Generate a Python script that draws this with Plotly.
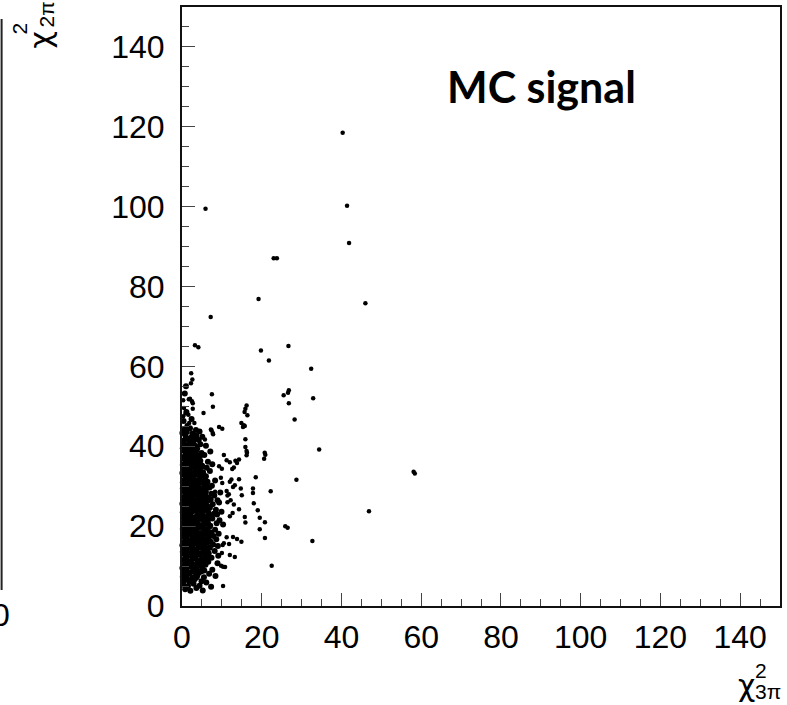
import plotly.graph_objects as go

# ---- data (chi2_3pi, chi2_2pi) ----
sparse_x = [40.3, 41.4, 41.9, 5.9, 23.0, 23.8, 46.0, 19.2, 7.2, 3.25, 4.1, 26.7, 19.8, 21.8, 32.4,
            2.3, 2.6, 2.25, 7.5, 25.5, 26.6, 26.8, 32.9, 26.8, 28.25, 7.75, 1.7, 2.0, 2.5, 2.7, 2.7,
            0.3, 0.5, 0.9, 1.6, 0.3, 5.4, 16.2, 15.9, 15.7, 16.4, 14.9, 15.5, 15.3, 15.75, 9.3, 10.1,
            7.25, 3.1, 1.8, 1.2, 1.3, 7.4, 7.7, 7.8, 5.75, 15.9, 15.9, 16.2, 16.3, 16.2, 20.75, 20.9,
            20.6, 34.4, 28.7, 22.25, 18.5, 14.3, 17.8, 17.8, 14.75, 15.0, 18.0, 19.0, 19.5, 20.8, 19.5,
            20.8, 25.9, 26.5, 32.7, 22.5, 15.75, 15.9, 13.25, 12.0, 13.8, 14.9, 12.8, 10.0, 10.3, 10.8,
            9.8, 10.3, 10.2, 10.5, 11.2, 11.8, 12.0, 12.7, 14.3, 13.0, 11.4, 12.2, 11.75, 11.4, 12.8,
            13.25, 12.0, 12.4, 13.0, 13.8, 13.4, 14.3, 12.6, 10.5, 11.2, 12.0, 9.3, 10.0, 9.75, 10.1,
            11.2, 8.3, 58.1, 58.4, 46.9]
sparse_y = [118.5, 100.2, 90.9, 99.5, 87.1, 87.1, 75.8, 76.9, 72.4, 65.3, 64.8, 65.1, 64.0, 61.5, 59.4,
            58.3, 56.7, 55.8, 53.0, 52.8, 53.4, 54.0, 52.0, 50.75, 46.7, 49.9, 51.8, 51.9, 51.3, 50.8, 49.4,
            51.5, 49.6, 48.2, 47.9, 47.5, 48.3, 50.2, 49.4, 48.6, 47.75, 45.8, 45.25, 44.8, 45.1, 44.8, 44.4,
            44.2, 45.8, 45.8, 45.25, 44.8, 44.0, 43.3, 43.0, 41.7, 41.75, 39.8, 38.8, 38.4, 37.75, 38.4, 37.9,
            36.9, 39.2, 31.6, 28.75, 32.25, 31.75, 29.4, 28.3, 29.4, 27.75, 25.7, 24.0, 22.1, 21.0, 19.25,
            17.0, 20.0, 19.6, 16.25, 10.1, 22.3, 20.9, 12.3, 12.8, 16.75, 16.1, 17.3, 13.3, 9.8, 9.75,
            10.1, 5.0, 15.25, 15.7, 17.2, 15.5, 22.5, 23.3, 24.2, 25.4, 26.0, 26.5, 28.0, 27.7, 29.8,
            30.25, 31.1, 31.7, 34.7, 35.8, 36.4, 36.7, 34.3, 37.8, 36.5, 36.0, 35.0, 34.4, 32.1, 30.8,
            28.8, 28.6, 33.6, 33.2, 23.75]

# dense core of the cluster near the origin (estimated from the solid black region)
core_pts = [
    (0.8, 4.2), (2.1, 3.8), (3.6, 4.5), (5.2, 3.9),
    (0.3, 5.3), (1.5, 5.0), (2.9, 5.6), (4.4, 5.1), (7.3, 4.8),
    (0.6, 6.4), (1.9, 6.1), (3.2, 6.7), (4.9, 6.2), (6.1, 5.9),
    (0.2, 7.3), (1.2, 7.6), (2.6, 7.1), (3.9, 7.8), (5.5, 7.2), (8.4, 7.5),
    (0.5, 8.6), (1.8, 8.2), (3.0, 8.9), (4.3, 8.4), (6.8, 8.1),
    (0.1, 9.5), (1.1, 9.2), (2.4, 9.8), (3.6, 9.3), (5.0, 9.7), (7.6, 9.1),
    (0.7, 10.4), (1.9, 10.8), (3.1, 10.2), (4.5, 10.6), (5.9, 10.3), (8.9, 10.7),
    (0.3, 11.5), (1.4, 11.2), (2.7, 11.8), (3.9, 11.3), (5.2, 11.6), (6.6, 11.1),
    (0.9, 12.3), (2.0, 12.7), (3.3, 12.2), (4.6, 12.8), (6.0, 12.4), (7.4, 12.1), (9.1, 12.6),
    (0.2, 13.6), (1.5, 13.3), (2.6, 13.9), (3.8, 13.4), (5.3, 13.7), (6.7, 13.2), (8.2, 13.8),
    (0.6, 14.4), (1.8, 14.8), (3.0, 14.3), (4.2, 14.7), (5.6, 14.2), (7.0, 14.6),
    (0.1, 15.2), (1.2, 15.6), (2.5, 15.1), (3.6, 15.7), (4.9, 15.3), (6.3, 15.8), (7.8, 15.4), (9.0, 15.0),
    (0.8, 16.5), (2.0, 16.2), (3.2, 16.8), (4.4, 16.3), (5.8, 16.6), (7.2, 16.1), (8.6, 16.7),
    (0.3, 17.4), (1.5, 17.8), (2.7, 17.3), (3.9, 17.6), (5.1, 17.2), (6.5, 17.7), (7.9, 17.5),
    (0.9, 18.6), (2.1, 18.2), (3.4, 18.7), (4.6, 18.3), (6.0, 18.8), (7.3, 18.4), (9.2, 18.1),
    (0.2, 19.3), (1.4, 19.7), (2.8, 19.2), (4.0, 19.6), (5.4, 19.4), (6.8, 19.8), (8.3, 19.1),
    (0.7, 20.5), (1.9, 20.2), (3.1, 20.8), (4.4, 20.3), (5.7, 20.6), (7.1, 20.1), (8.7, 20.7), (10.3, 20.4),
    (0.4, 21.6), (1.3, 21.3), (2.5, 21.8), (3.7, 21.2), (5.0, 21.7), (6.3, 21.4), (7.6, 21.9), (9.4, 21.5),
    (0.9, 22.4), (2.1, 22.8), (3.3, 22.3), (4.6, 22.7), (5.9, 22.2), (7.3, 22.6), (8.8, 22.9),
    (0.2, 23.5), (1.5, 23.2), (2.7, 23.7), (4.0, 23.3), (5.3, 23.8), (6.6, 23.4), (8.0, 23.1), (9.9, 23.6),
    (0.6, 24.3), (1.8, 24.7), (3.0, 24.2), (4.3, 24.8), (5.6, 24.4), (7.0, 24.6), (8.5, 24.1),
    (0.1, 25.6), (1.2, 25.2), (2.4, 25.8), (3.7, 25.3), (5.0, 25.7), (6.3, 25.1), (7.7, 25.5), (9.3, 25.9),
    (0.8, 26.4), (2.0, 26.8), (3.2, 26.3), (4.5, 26.6), (5.8, 26.2), (7.2, 26.7), (8.9, 26.5),
    (0.3, 27.2), (1.5, 27.6), (2.7, 27.3), (4.0, 27.8), (5.2, 27.4), (6.6, 27.1), (8.1, 27.7),
    (0.9, 28.5), (2.1, 28.2), (3.4, 28.7), (4.6, 28.3), (6.0, 28.6), (7.4, 28.1), (9.6, 28.4),
    (0.2, 29.4), (1.4, 29.8), (2.8, 29.3), (4.1, 29.6), (5.4, 29.2), (6.9, 29.7),
    (0.7, 30.3), (1.9, 30.6), (3.1, 30.2), (4.4, 30.8), (5.7, 30.4), (7.5, 30.1),
    (0.4, 31.5), (1.6, 31.2), (2.6, 31.8), (3.8, 31.3), (5.1, 31.6), (6.4, 31.1), (8.3, 31.4),
    (0.9, 32.6), (2.2, 32.3), (3.3, 32.8), (4.7, 32.2), (6.0, 32.5),
    (0.1, 33.3), (1.3, 33.7), (2.7, 33.2), (3.9, 33.6), (5.3, 33.4), (7.0, 33.8),
    (0.6, 34.5), (1.8, 34.2), (3.1, 34.7), (4.4, 34.3), (6.2, 34.6),
    (0.2, 35.4), (1.4, 35.8), (2.5, 35.3), (3.8, 35.6), (5.0, 35.2), (7.6, 35.5),
    (0.8, 36.6), (2.0, 36.2), (3.3, 36.7), (4.6, 36.4), (6.5, 36.1),
    (0.3, 37.3), (1.6, 37.7), (2.8, 37.2), (4.1, 37.5), (5.6, 37.8),
    (0.9, 38.4), (2.2, 38.1), (3.5, 38.6), (4.9, 38.3), (7.1, 38.7),
    (0.2, 39.5), (1.3, 39.2), (2.6, 39.8), (3.8, 39.4),
    (0.7, 40.3), (1.9, 40.7), (3.2, 40.2), (4.6, 40.5), (6.0, 40.1),
    (0.4, 41.4), (1.5, 41.8), (2.9, 41.3), (4.2, 41.6),
    (0.9, 42.5), (2.3, 42.2), (3.6, 42.7), (5.1, 42.4),
    (0.1, 43.3), (1.2, 43.6), (2.6, 43.2), (4.4, 43.7),
    (0.6, 44.2), (2.0, 44.5), (3.5, 44.1),
    (0.4, 46.3), (2.4, 46.8), (1.1, 48.6), (0.7, 53.2), (1.0, 55.0),
]
# extra events filling the gaps of the saturated black core (x < ~6, y ~ 6..40)
fill_pts = [
    (1.2, 6.9), (2.4, 6.6), (3.7, 7.2), (4.9, 8.7),
    (0.9, 8.0), (2.3, 8.5), (3.5, 8.1), (5.6, 8.9),
    (0.4, 10.0), (1.4, 9.9), (2.7, 10.4), (4.0, 10.1), (5.3, 10.9),
    (1.0, 11.9), (2.2, 11.3), (3.4, 11.9), (4.7, 11.5), (6.2, 11.9),
    (0.5, 13.0), (1.7, 12.8), (2.9, 13.1), (4.3, 13.2), (5.8, 13.0),
    (1.2, 14.1), (2.4, 14.5), (3.6, 14.2), (5.0, 14.6), (6.4, 14.4),
    (0.5, 15.9), (1.8, 15.5), (3.0, 15.9), (4.2, 15.6), (5.5, 15.4),
    (1.2, 16.9), (2.5, 16.6), (3.7, 16.9), (5.1, 16.5), (6.7, 17.1),
    (0.5, 18.0), (1.7, 18.3), (2.9, 17.9), (4.2, 18.1), (5.5, 18.0),
    (1.1, 19.1), (2.4, 19.4), (3.5, 19.0), (4.8, 19.8), (6.2, 19.2),
    (0.3, 20.9), (1.5, 20.7), (2.6, 20.3), (3.8, 20.7), (5.1, 20.2), (6.5, 20.9),
    (0.9, 21.9), (2.0, 21.5), (3.2, 21.5), (4.4, 21.9), (5.6, 21.1),
    (0.4, 22.7), (1.6, 22.5), (2.7, 22.1), (4.0, 22.5), (5.3, 22.6), (6.7, 22.3),
    (1.0, 23.9), (2.2, 23.5), (3.4, 23.9), (4.7, 23.6), (6.0, 23.9),
    (0.3, 24.8), (1.4, 24.5), (2.5, 24.9), (3.7, 24.5), (5.0, 24.9), (6.4, 24.7),
    (0.7, 25.9), (1.8, 25.6), (3.1, 25.9), (4.4, 25.6), (5.7, 25.7),
    (0.3, 26.9), (1.4, 26.5), (2.6, 26.9), (3.9, 26.6), (5.2, 26.9), (6.5, 26.4),
    (0.8, 27.8), (2.1, 27.5), (3.3, 27.9), (4.6, 27.5), (5.9, 27.8),
    (0.3, 28.8), (1.5, 28.9), (2.8, 28.5), (4.0, 28.9), (5.3, 28.6),
    (0.9, 29.9), (2.2, 29.6), (3.5, 29.9), (4.8, 29.5), (6.2, 29.9),
    (0.2, 30.9), (1.3, 30.8), (2.6, 30.6), (3.7, 30.9), (5.1, 30.9),
    (1.0, 31.9), (2.1, 31.7), (3.3, 31.5), (4.5, 31.9), (5.8, 31.7),
    (0.4, 32.9), (1.6, 32.6), (2.8, 32.7), (4.0, 32.9), (5.4, 32.8),
    (0.9, 33.8), (2.1, 33.5), (3.4, 33.9), (4.6, 33.7),
    (0.3, 34.9), (1.4, 34.6), (2.6, 34.9), (3.8, 34.7), (5.2, 34.9),
    (0.9, 35.9), (2.1, 35.6), (3.2, 35.9), (4.4, 35.8),
    (0.4, 36.9), (1.5, 36.7), (2.7, 36.8), (3.9, 36.9),
    (1.0, 37.8), (2.3, 37.5), (3.4, 37.9), (4.6, 37.7),
    (0.5, 38.9), (1.7, 38.7), (2.9, 38.9),
    (1.1, 39.9), (2.4, 40.1), (3.5, 39.8),
    (0.3, 41.0), (1.8, 41.2), (3.4, 41.9),
]
core_x = [p[0] for p in core_pts + fill_pts]
core_y = [p[1] for p in core_pts + fill_pts]

tick_vals = [0, 20, 40, 60, 80, 100, 120, 140]
tick_text = ["0", "20", "40", "60", "80", "100", "120", "140"]

FONT = "Liberation Sans, Arial, Helvetica, sans-serif"
GREEK = "DejaVu Sans, Liberation Sans, sans-serif"
W, H = 787, 705
L, R, T, B = 182, 5, 6, 99
PW, PH = W - L - R, H - T - B


def px(xp):
    return (xp - L) / PW


def py(yp):
    return (H - B - yp) / PH


fig = go.Figure()
fig.add_trace(go.Scatter(x=core_x, y=core_y, mode="markers",
                         marker=dict(size=6, color="black", line=dict(width=0)),
                         hoverinfo="skip", cliponaxis=False))
fig.add_trace(go.Scatter(x=sparse_x, y=sparse_y, mode="markers",
                         marker=dict(size=4.5, color="black", line=dict(width=0)),
                         hoverinfo="skip", cliponaxis=False))

axis_common = dict(
    range=[0, 150], tickmode="array", tickvals=tick_vals, ticktext=tick_text,
    ticks="inside", ticklen=13, tickwidth=1, tickcolor="#444",
    minor=dict(dtick=5, tick0=0, ticks="inside", ticklen=7, tickwidth=1, tickcolor="#444", showgrid=False),
    showgrid=False, zeroline=False, showline=True, mirror=True,
    linewidth=2, linecolor="#111",
    tickfont=dict(family=FONT, size=32, color="black"),
    fixedrange=True,
)
fig.update_xaxes(**axis_common, ticklabelstandoff=2)
fig.update_yaxes(**axis_common, ticklabelstandoff=9)

ann = []
# "MC signal"
ann.append(dict(text="<b>MC signal</b>", x=px(543), y=py(86), xref="paper", yref="paper",
                showarrow=False, xanchor="center", yanchor="middle",
                font=dict(family="Lato, Open Sans, sans-serif", size=43, color="black")))
# x-axis title chi^2_{3pi}
ann.append(dict(text="χ", x=px(748), y=py(686), xref="paper", yref="paper", showarrow=False,
                xanchor="center", yanchor="middle", font=dict(family=GREEK, size=30, color="black")))
ann.append(dict(text="2", x=px(763), y=py(671), xref="paper", yref="paper", showarrow=False,
                xanchor="center", yanchor="middle", font=dict(family=FONT, size=21, color="black")))
ann.append(dict(text="3π", x=px(770), y=py(692), xref="paper", yref="paper", showarrow=False,
                xanchor="center", yanchor="middle", font=dict(family=FONT, size=21, color="black")))
# y-axis title chi^2_{2pi} (rotated)
ann.append(dict(text="χ", x=px(40), y=py(39), xref="paper", yref="paper", showarrow=False, textangle=-90,
                xanchor="center", yanchor="middle", font=dict(family=GREEK, size=30, color="black")))
ann.append(dict(text="2", x=px(19), y=py(28), xref="paper", yref="paper", showarrow=False, textangle=-90,
                xanchor="center", yanchor="middle", font=dict(family=FONT, size=21, color="black")))
ann.append(dict(text="2π", x=px(47), y=py(13), xref="paper", yref="paper", showarrow=False, textangle=-90,
                xanchor="center", yanchor="middle", font=dict(family=FONT, size=21, color="black")))
# remnant of neighbouring panel at the left edge
ann.append(dict(text="0", x=px(0), y=py(615), xref="paper", yref="paper", showarrow=False,
                xanchor="center", yanchor="middle", font=dict(family=FONT, size=32, color="black")))

fig.update_layout(
    width=W, height=H, margin=dict(l=L, r=R, t=T, b=B, pad=0),
    paper_bgcolor="white", plot_bgcolor="white", showlegend=False,
    annotations=ann,
    shapes=[dict(type="line", xref="paper", yref="paper", x0=px(1), x1=px(1), y0=py(18), y1=py(590),
                 line=dict(color="#222", width=2))],
)

fig.write_html("out.html")
